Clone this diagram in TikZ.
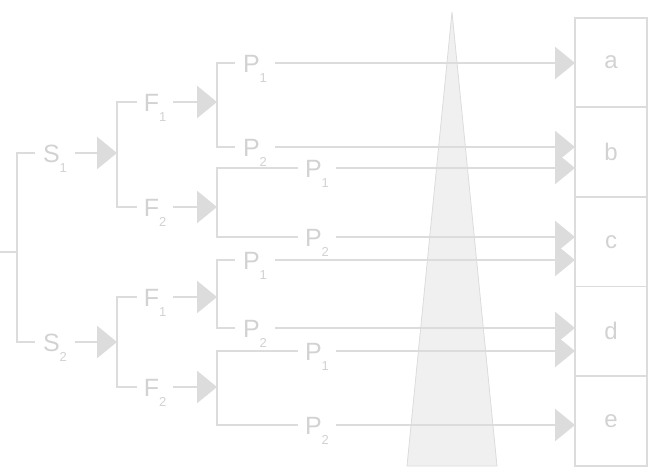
\documentclass[tikz,border=0pt]{standalone}
\usepackage{fontspec}
\setmainfont{Liberation Sans}
\usetikzlibrary{arrows.meta,positioning}
\definecolor{lgray}{HTML}{DCDCDC}
\definecolor{tgray}{HTML}{D2D2D2}
\definecolor{cone}{HTML}{F0F0F0}
\newcommand{\lbl}[2]{#1\raisebox{-10pt}[0pt][0pt]{\fontsize{13}{13}\selectfont #2}}

\begin{document}
\begin{tikzpicture}[x=1pt,y=-1pt,
  line/.style={draw=lgray,line width=2.8pt},
  arr/.style={line,-{Triangle[length=20pt,width=32pt]}},
  lab/.style={text=tgray,font=\fontsize{25}{25}\selectfont,inner sep=0pt,
    text height=18pt,text depth=0pt,minimum width=#1},
  lab/.default=40pt,
  box/.style={draw=lgray,line width=1.8pt,text=tgray,font=\fontsize{24}{24}\selectfont,
    minimum width=72pt,minimum height=89.6pt,inner sep=0pt,outer sep=0pt}]
\useasboundingbox (0,0) rectangle (656,466);
%
\fill[cone,draw=lgray,line width=0.8pt] (452,12) -- (407,466) -- (497,466) -- cycle;
%
\coordinate (r0) at (0,252);
\coordinate (jr) at (17,252);
\node[lab] (s1) at (55,153) {\lbl{S}{1}};
\node[lab] (s2) at (55,342) {\lbl{S}{2}};
\draw[line] (r0) -- (jr);
\draw[line] (s1) -- (s1 -| jr) -- (s2 -| jr) -- (s2);
%
\coordinate (j1) at (117,153);
\coordinate (j2) at (117,342);
\draw[arr] (s1) -- (j1);
\draw[arr] (s2) -- (j2);
\node[lab=36pt] (f11) at (155,102) {\lbl{F}{1}};
\node[lab=36pt] (f12) at (155,207) {\lbl{F}{2}};
\node[lab=36pt] (f21) at (155,297) {\lbl{F}{1}};
\node[lab=36pt] (f22) at (155,387) {\lbl{F}{2}};
\draw[line] (f11) -- (f11 -| j1) -- (f12 -| j1) -- (f12);
\draw[line] (f21) -- (f21 -| j2) -- (f22 -| j2) -- (f22);
%
\coordinate (j11) at (217,102);
\coordinate (j12) at (217,207);
\coordinate (j21) at (217,297);
\coordinate (j22) at (217,387);
\foreach \f in {11,12,21,22}
  \draw[arr] (f\f) -- (j\f);
\node[lab] (p111) at (255,63) {\lbl{P}{1}};
\node[lab] (p112) at (255,147) {\lbl{P}{2}};
\node[lab=38pt] (p121) at (317,168) {\lbl{P}{1}};
\node[lab=38pt] (p122) at (317,237) {\lbl{P}{2}};
\node[lab] (p211) at (255,260) {\lbl{P}{1}};
\node[lab] (p212) at (255,328) {\lbl{P}{2}};
\node[lab=38pt] (p221) at (317,351) {\lbl{P}{1}};
\node[lab=38pt] (p222) at (317,425) {\lbl{P}{2}};
\foreach \f in {11,12,21,22}
  \draw[line] (p\f1) -- (p\f1 -| j\f) -- (p\f2 -| j\f) -- (p\f2);
%
\node[box] (a) at (611,62.5) {a};
\node[box,below=0pt of a] (b) {b};
\node[box,below=0pt of b] (c) {c};
\node[box,below=0pt of c] (d) {d};
\node[box,below=0pt of d] (e) {e};
%
\foreach \p/\b in {p111/a,p112/b,p121/b,p122/c,p211/c,p212/d,p221/d,p222/e}
  \draw[arr] (\p) -- (\p -| \b.west);
\end{tikzpicture}
\end{document}
